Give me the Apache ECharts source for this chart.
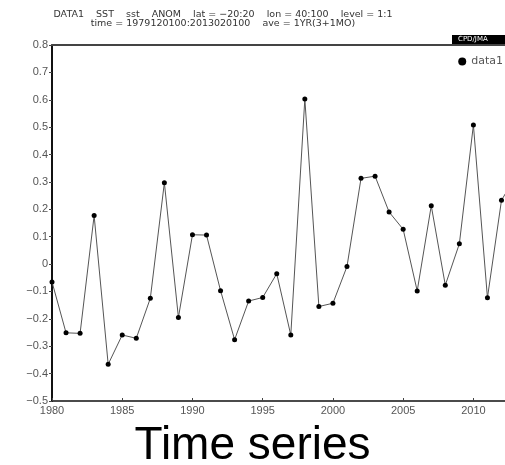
<!DOCTYPE html>
<html>
<head>
<meta charset="utf-8">
<script src="https://cdn.jsdelivr.net/npm/echarts@6/dist/echarts.min.js"></script>
<style>
  html, body { margin: 0; padding: 0; background: #fff; }
  #chart { width: 505px; height: 465px; }
</style>
</head>
<body>
<div id="chart"></div>
<script>
// annual SST anomaly, 1980-2013
const years = [1980, 1981, 1982, 1983, 1984, 1985, 1986, 1987, 1988, 1989,
  1990, 1991, 1992, 1993, 1994, 1995, 1996, 1997, 1998, 1999,
  2000, 2001, 2002, 2003, 2004, 2005, 2006, 2007, 2008, 2009,
  2010, 2011, 2012, 2013];
const anom = [-0.065, -0.251, -0.253, 0.177, -0.366, -0.259, -0.271, -0.125, 0.297, -0.195,
  0.107, 0.106, -0.097, -0.276, -0.135, -0.122, -0.035, -0.259, 0.603, -0.155,
  -0.143, -0.009, 0.313, 0.321, 0.19, 0.127, -0.098, 0.213, -0.077, 0.074,
  0.508, -0.123, 0.233, 0.32];
const yearTicks = [1980, 1985, 1990, 1995, 2000, 2005, 2010];

const chart = echarts.init(document.getElementById('chart'));

const fmtMinus = v => String(Math.round(v * 10) / 10).replace('-', '\u2212');

const option = {
  animation: false,
  title: [
    {
      text: 'DATA1    SST    sst    ANOM    lat = \u221220:20    lon = 40:100    level = 1:1\n' +
            'time = 1979120100:2013020100    ave = 1YR(3+1MO)',
      left: 218, top: 5, textAlign: 'center',
      textStyle: {fontSize: 9.5, fontWeight: 'normal', color: '#333', lineHeight: 9, fontFamily: 'DejaVu Sans'}
    },
    {
      text: 'Time series',
      left: 'center', top: 418,
      textStyle: {fontSize: 46, fontWeight: 'normal', color: '#000', fontFamily: 'Liberation Sans'}
    }
  ],
  legend: {
    data: ['data1'],
    right: -3, top: 51,
    icon: 'circle', itemWidth: 8, itemHeight: 8, itemGap: 5,
    textStyle: {fontSize: 11, color: '#555', fontFamily: 'DejaVu Sans'}
  },
  graphic: [
    {
      type: 'text', left: 452, top: 35,
      style: {
        text: 'CPD/JMA', fill: '#fff', fontSize: 7, fontFamily: 'DejaVu Sans',
        backgroundColor: '#000', padding: [1, 20, 1, 6]
      }
    }
  ],
  grid: {left: 52, right: 0, top: 45, bottom: 64},
  xAxis: {
    type: 'value',
    min: 1980, max: 2012.25, interval: 5,
    axisLine: {onZero: false, lineStyle: {color: '#111', width: 1.5}},
    axisTick: {inside: true, length: 3, lineStyle: {color: '#444'}},
    axisLabel: {
      fontSize: 11, color: '#555', margin: 4, fontFamily: 'Liberation Sans',
      customValues: yearTicks,
      formatter: v => String(Math.round(v))
    },
    splitLine: {show: false}
  },
  yAxis: {
    type: 'value',
    min: -0.5, max: 0.8, interval: 0.1,
    axisLine: {show: true, lineStyle: {color: '#111', width: 2}},
    axisTick: {show: true, length: 3, lineStyle: {color: '#444'}},
    axisLabel: {fontSize: 11, color: '#555', margin: 4, fontFamily: 'Liberation Sans', formatter: fmtMinus},
    splitLine: {show: false}
  },
  series: [
    {
      name: 'data1',
      type: 'line',
      data: years.map((y, i) => [y, anom[i]]),
      symbol: 'circle', symbolSize: 5,
      itemStyle: {color: '#000'},
      lineStyle: {color: '#555', width: 1},
      clip: true
    },
    {
      // top frame line
      type: 'line', data: [], silent: true,
      markLine: {
        silent: true, symbol: 'none', label: {show: false},
        lineStyle: {color: '#444', width: 2, type: 'solid'},
        data: [{yAxis: 0.8}]
      }
    }
  ]
};

chart.setOption(option);
</script>
</body>
</html>
